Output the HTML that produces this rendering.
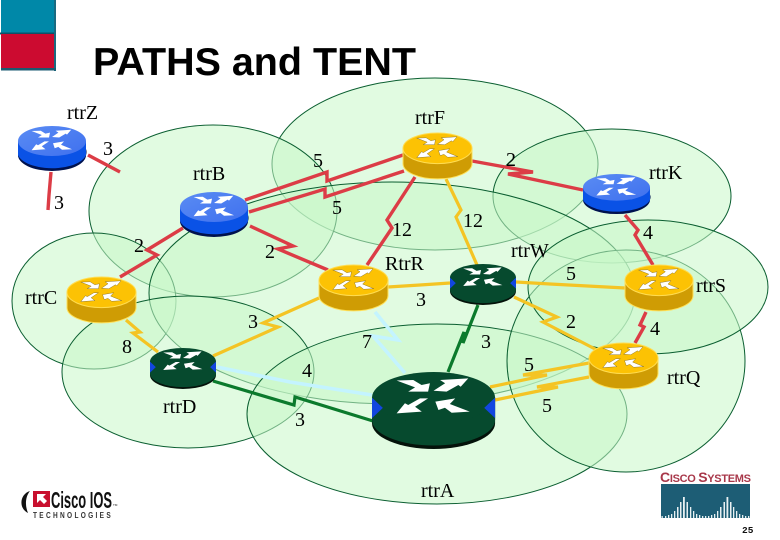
<!DOCTYPE html>
<html><head><meta charset="utf-8"><style>
html,body{margin:0;padding:0;background:#fff}
svg{display:block}
.l{font-family:"Liberation Serif",serif;font-size:20px;fill:#000}
.r{fill:none;stroke:#dc3c46;stroke-width:3.4;stroke-linejoin:miter}
.y{fill:none;stroke:#f4c424;stroke-width:3.2}
.g{fill:none;stroke:#0b7a2c;stroke-width:3.2}
.c{fill:none;stroke:#c4f4ff;stroke-width:3.6}
.e{fill:#c8f8c8;fill-opacity:.55;stroke:#0a5e30;stroke-width:1}
</style></head><body>
<svg width="780" height="540" viewBox="0 0 780 540" xmlns="http://www.w3.org/2000/svg">
<defs>
<g id="arr">
<polygon points="13.600,5 22.800,4.700 27.400,7.600 32,6.600 31,11.500 20,11.500 23.800,9"/>
<polygon points="34,11 40.400,6.600 37.600,4.700 53.200,3.700 49,8.600 47.700,7.600 41.200,11.500"/>
<polygon points="31,15.400 26.500,15.400 20,19.300 18.200,18.300 13.600,24.200 27.500,23.200 23.800,20.300"/>
<polygon points="35,17.300 46,15.400 43,18.700 54,23.200 44,23.800 40.300,20.900 36.700,22.200"/>
</g>
<linearGradient id="bt" x1="0" y1="0" x2="1" y2="1"><stop offset="0" stop-color="#5a8cf4"/><stop offset="1" stop-color="#3f70ee"/></linearGradient>
<g id="blue">
<path d="M0 15V29A34 15.500 0 0 0 68 29V15Z" fill="#0a52e6"/>
<path d="M68 23V29A34 16 0 0 1 0 29A34 16 0 0 0 68 23Z" fill="#00124e"/>
<ellipse cx="34" cy="15" rx="34" ry="15" fill="url(#bt)"/>
<use href="#arr" fill="#fff"/>
</g>
<g id="yel">
<path d="M0 15V30A34 15 0 0 0 68 30V15Z" fill="#cf9c04" stroke="#ffe15a" stroke-width="1"/>
<ellipse cx="34" cy="15" rx="34" ry="15" fill="#fcc204" stroke="#ffdc50" stroke-width="1"/>
<use href="#arr" fill="#fff" stroke="#7a6420" stroke-width=".4"/>
</g>
<g id="grn">
<path d="M0 15V30A34 15 0 0 0 68 30V15Z" fill="#04120a"/>
<path d="M0 15V28A34 15 0 0 0 68 28V15Z" fill="#064a2e"/>
<ellipse cx="34" cy="15" rx="34" ry="15" fill="#064a2e"/>
<use href="#arr" fill="#fff"/>
<polygon points="0,15 6,21 0,27" fill="#1246e0"/>
<polygon points="68,15 62,21 68,27" fill="#1246e0"/>
</g>
</defs>

<rect x="1" y="0" width="54" height="33" fill="#0088a8"/>
<rect x="0" y="32.500" width="55" height="2" fill="#0e5068"/>
<rect x="1" y="34" width="53" height="35" fill="#cc0b30"/>
<rect x="54" y="0" width="2" height="71" fill="#1a6a80"/>
<rect x="1" y="68" width="55" height="2.500" fill="#1a5a70"/>

<text x="93" y="75" font-family="'Liberation Sans',sans-serif" font-weight="700" font-size="38.500" textLength="323" lengthAdjust="spacingAndGlyphs">PATHS and TENT</text>

<ellipse class="e" cx="435" cy="164" rx="163" ry="86"/>
<ellipse class="e" cx="612" cy="196" rx="119" ry="67"/>
<ellipse class="e" cx="213" cy="211" rx="124" ry="86"/>
<ellipse class="e" cx="94" cy="301" rx="82" ry="68"/>
<ellipse class="e" cx="392" cy="293" rx="243" ry="111"/>
<ellipse class="e" cx="188" cy="372" rx="126" ry="76"/>
<ellipse class="e" cx="437" cy="414" rx="190" ry="90"/>
<ellipse class="e" cx="626" cy="361" rx="119" ry="111"/>
<ellipse class="e" cx="648" cy="287" rx="120" ry="67"/>

<polyline class="r" points="88,155 120,172"/>
<polyline class="r" points="51,172 49,195 48,210"/>
<polyline class="r" points="245,200 327,172 327,181 403,155"/>
<polyline class="r" points="249,212 325,189 325,197 404,171"/>
<polyline class="r" points="250,226 293,246 278,249 328,270"/>
<polyline class="r" points="183,228 147,250 157,255 120,277"/>
<polyline class="r" points="472,161 533,172 508,174 583,190"/>
<polyline class="r" points="415,177 387,220 392,228 367,265"/>
<polyline class="r" points="625,215 638,230 635,235 653,265"/>
<polyline class="r" points="646,312 640,325 644,327 635,343"/>
<polyline class="y" points="446,179 461,210 456,217 477,265"/>
<polyline class="y" points="388,287 420,285 450,283"/>
<polyline class="y" points="516,282 550,284 625,288"/>
<polyline class="y" points="514,297 557,317 543,322 597,350"/>
<polyline class="y" points="589,363 523,375 547,375 490,387"/>
<polyline class="y" points="589,377 537,387 558,387 495,400"/>
<polyline class="y" points="126,320 140,332 133,333 158,352"/>
<polyline class="y" points="213,356 278,327 263,323 319,298"/>
<polyline class="g" points="478,305 463,343 464,332 448,372"/>
<polyline class="g" points="213,381 294,405 295,397 373,421"/>
<polyline class="c" points="217,367 290,382 372,395"/>
<polyline class="c" points="375,312 398,340 373,336 405,373"/>

<use href="#blue" transform="translate(18,126)"/>
<use href="#blue" transform="translate(180,192)"/>
<use href="#blue" transform="translate(583,174) scale(.985,.89)"/>
<use href="#yel" transform="translate(403,133) scale(1.015,1.02)"/>
<use href="#yel" transform="translate(319,265) scale(1.015,1.02)"/>
<use href="#yel" transform="translate(625,265) scale(1,1.02)"/>
<use href="#yel" transform="translate(67,277) scale(1.015,1.02)"/>
<use href="#yel" transform="translate(589,343) scale(1.015,1.02)"/>
<use href="#grn" transform="translate(450,264) scale(.97,.91)"/>
<use href="#grn" transform="translate(150,348) scale(.97,.91)"/>
<use href="#grn" transform="translate(372,372) scale(1.81,1.71)"/>

<text class="l" x="67" y="119">rtrZ</text>
<text class="l" x="193" y="180">rtrB</text>
<text class="l" x="415" y="124">rtrF</text>
<text class="l" x="649" y="179">rtrK</text>
<text class="l" x="511" y="257">rtrW</text>
<text class="l" x="385" y="270">RtrR</text>
<text class="l" x="696" y="292">rtrS</text>
<text class="l" x="25" y="304">rtrC</text>
<text class="l" x="163" y="413">rtrD</text>
<text class="l" x="667" y="384">rtrQ</text>
<text class="l" x="421" y="497">rtrA</text>

<text class="l" x="103" y="155">3</text>
<text class="l" x="54" y="209">3</text>
<text class="l" x="313" y="167">5</text>
<text class="l" x="332" y="214">5</text>
<text class="l" x="134" y="252">2</text>
<text class="l" x="265" y="258">2</text>
<text class="l" x="392" y="236">12</text>
<text class="l" x="463" y="227">12</text>
<text class="l" x="506" y="166">2</text>
<text class="l" x="643" y="239">4</text>
<text class="l" x="566" y="280">5</text>
<text class="l" x="416" y="306">3</text>
<text class="l" x="248" y="328">3</text>
<text class="l" x="122" y="353">8</text>
<text class="l" x="362" y="348">7</text>
<text class="l" x="481" y="348">3</text>
<text class="l" x="566" y="328">2</text>
<text class="l" x="650" y="335">4</text>
<text class="l" x="524" y="371">5</text>
<text class="l" x="542" y="412">5</text>
<text class="l" x="302" y="377">4</text>
<text class="l" x="295" y="426">3</text>

<path d="M30 491C20 494 18 508 28 513C25 506 25 497 30 491Z" fill="#111"/>
<rect x="33" y="491" width="17" height="16" fill="#c8102e"/>
<polygon points="37,494 46,494 43,497 47,501 44,504 40,500 37,503" fill="#fff"/>
<text x="51" y="508" font-family="'Liberation Sans',sans-serif" font-weight="700" font-size="23" textLength="61" lengthAdjust="spacingAndGlyphs" fill="#111">Cisco IOS</text>
<text x="113" y="506" font-family="'Liberation Sans',sans-serif" font-size="3" fill="#111">TM</text>
<text x="33" y="518" font-family="'Liberation Sans',sans-serif" font-weight="700" font-size="8.500" letter-spacing="3" textLength="80" lengthAdjust="spacingAndGlyphs" fill="#333">TECHNOLOGIES</text>

<text x="660" y="482" font-family="'Liberation Sans',sans-serif" font-weight="700" font-size="11" textLength="91" fill="#a8384a"><tspan font-size="14">C</tspan>ISCO <tspan font-size="14">S</tspan>YSTEMS</text>
<rect x="661" y="484" width="89" height="34" fill="#1d5d75"/>
<g fill="#e8f0f2">
<rect x="661.500" y="516" width="1.300" height="2"/><rect x="665" y="516" width="1.300" height="2"/><rect x="668" y="515" width="1.300" height="3"/><rect x="671" y="514" width="1.300" height="4"/><rect x="674" y="511" width="1.300" height="7"/><rect x="677" y="507" width="1.500" height="11"/><rect x="680" y="502" width="1.500" height="16"/><rect x="683" y="497" width="1.800" height="21"/><rect x="686.500" y="502" width="1.500" height="16"/><rect x="690" y="507" width="1.300" height="11"/><rect x="693" y="511" width="1.300" height="7"/><rect x="696" y="514" width="1.300" height="4"/>
<rect x="699" y="515" width="1.300" height="3"/><rect x="702" y="516" width="1.300" height="2"/><rect x="705" y="516" width="1.300" height="2"/><rect x="708" y="516" width="1.300" height="2"/><rect x="711" y="515" width="1.300" height="3"/><rect x="714" y="514" width="1.300" height="4"/><rect x="717" y="511" width="1.300" height="7"/><rect x="720" y="507" width="1.500" height="11"/><rect x="723.500" y="502" width="1.500" height="16"/><rect x="726.500" y="497" width="1.800" height="21"/><rect x="730" y="502" width="1.500" height="16"/><rect x="733" y="507" width="1.300" height="11"/><rect x="736" y="511" width="1.300" height="7"/><rect x="739" y="514" width="1.300" height="4"/><rect x="742" y="515" width="1.300" height="3"/><rect x="745" y="516" width="1.300" height="2"/><rect x="748" y="516" width="1.300" height="2"/>
</g>
<text x="742" y="533" font-family="'Liberation Mono',monospace" font-weight="700" font-size="9.500" fill="#111">25</text>
</svg>
</body></html>
